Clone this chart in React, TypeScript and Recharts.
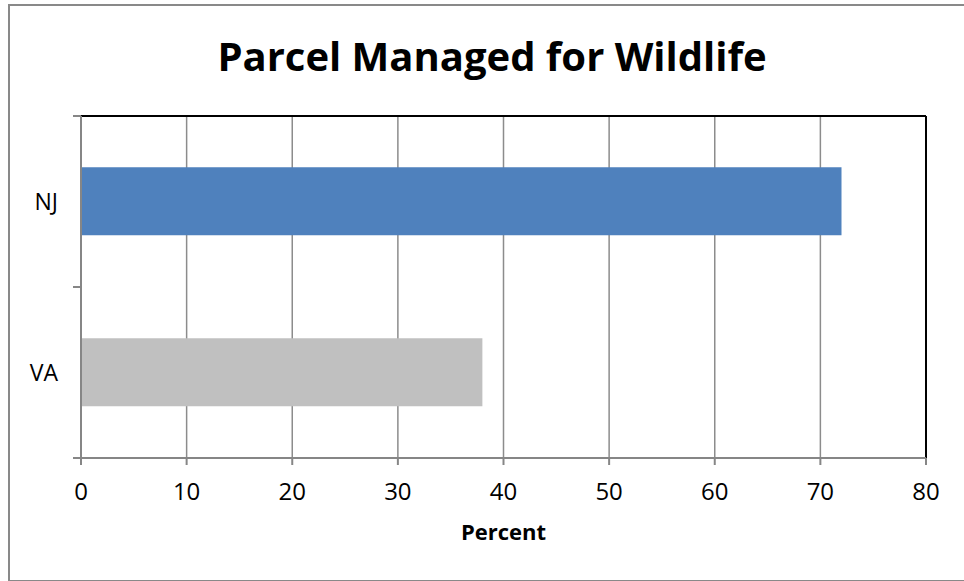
import { BarChart, Bar, XAxis, YAxis, CartesianGrid, ReferenceLine, Cell, Label } from 'recharts';

const states = ['NJ', 'VA'];
const percents = [72, 38];
const barColors = ['#4F81BD', '#C0C0C0'];
const xTicks = [0, 10, 20, 30, 40, 50, 60, 70, 80];

const data = states.map((state, i) => ({ state, percent: percents[i] }));

const font = '"Open Sans", sans-serif';
const axisGray = '#868686';
const TICK_SIZE = 8;
const TICK_MARGIN = 15;

// category ticks sit between the bands (Excel style), labels at the centre
function StateTick(props: any) {
  const { x, y, payload, index, visibleTicksCount } = props;
  const half = payload.offset ?? 0;
  const x2 = x + TICK_MARGIN + TICK_SIZE;
  const x1 = x2 - TICK_SIZE;
  const last = index === visibleTicksCount - 1;
  return (
    <g>
      <line x1={x1} x2={x2} y1={y - half} y2={y - half} stroke={axisGray} strokeWidth={2} />
      {last ? <line x1={x1} x2={x2} y1={y + half} y2={y + half} stroke={axisGray} strokeWidth={2} /> : null}
      <text x={x} y={y} dy="0.35em" textAnchor="end" fontSize={23} fill="#000" fontFamily={font}>
        {payload.value}
      </text>
    </g>
  );
}

export default function App() {
  return (
    <div
      style={{
        position: 'absolute',
        left: 8,
        top: 4,
        width: 962,
        height: 578,
        border: '2px solid #898989',
        boxSizing: 'border-box',
        background: '#fff',
        fontFamily: font,
      }}
    >
      <div
        style={{
          position: 'absolute',
          left: -8,
          width: 980,
          top: 30,
          textAlign: 'center',
          fontSize: 40,
          fontWeight: 700,
          lineHeight: 1,
          color: '#000',
        }}
      >
        Parcel Managed for Wildlife
      </div>
      <BarChart
        width={958}
        height={574}
        data={data}
        layout="vertical"
        barCategoryGap="30%"
        margin={{ top: 110, right: 42, left: 0, bottom: 0 }}
      >
        <CartesianGrid horizontal={false} stroke="#8c8c8c" strokeWidth={1.5} />
        <CartesianGrid
          stroke="#000"
          strokeWidth={2}
          horizontalCoordinatesGenerator={({ offset }: any) => [offset.top]}
          verticalCoordinatesGenerator={({ offset }: any) => [offset.left + offset.width]}
        />
        <XAxis
          type="number"
          domain={[0, 80]}
          ticks={xTicks}
          interval={0}
          height={122}
          tickSize={7}
          tickMargin={18}
          stroke={axisGray}
          strokeWidth={2}
          tick={{ fontSize: 24, fill: '#000', fontFamily: font }}
        >
          <Label
            value="Percent"
            position="insideBottom"
            offset={40}
            style={{ fontSize: 22, fontWeight: 700, fill: '#000', fontFamily: font }}
          />
        </XAxis>
        <YAxis
          type="category"
          dataKey="state"
          width={71}
          stroke={axisGray}
          strokeWidth={2}
          tickLine={false}
          tickSize={TICK_SIZE}
          tickMargin={TICK_MARGIN}
          tick={<StateTick />}
        />
        <ReferenceLine x={80} stroke="#000" strokeWidth={2} />
        <Bar dataKey="percent" isAnimationActive={false}>
          {data.map((d, i) => (
            <Cell key={d.state} fill={barColors[i]} />
          ))}
        </Bar>
      </BarChart>
    </div>
  );
}
